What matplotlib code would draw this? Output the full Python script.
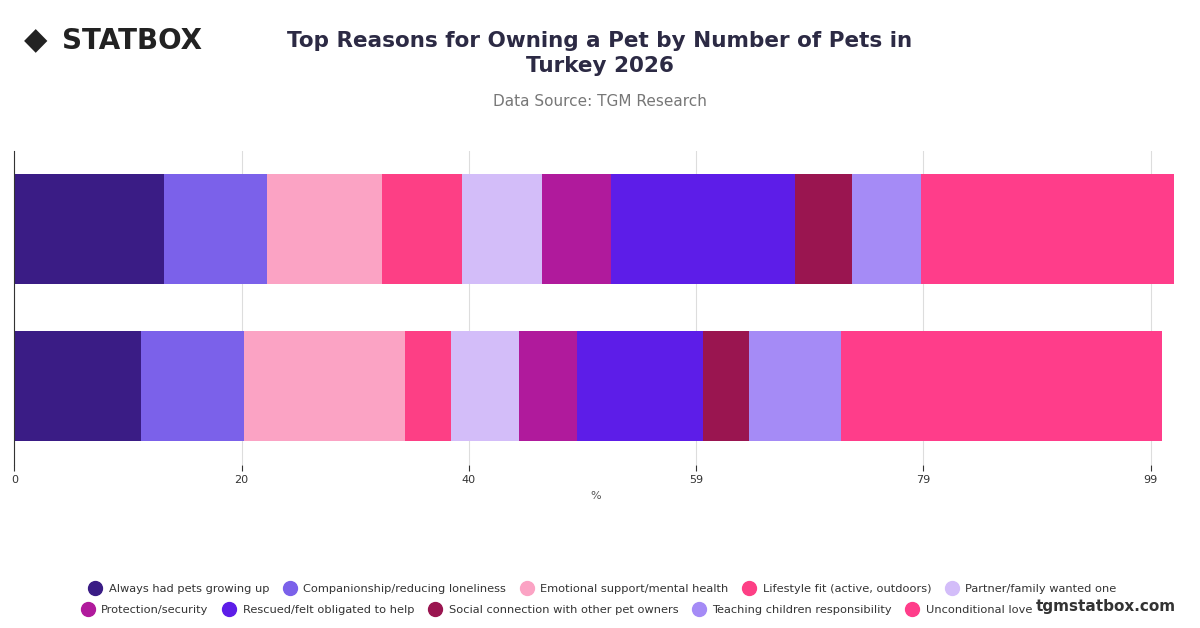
import numpy as np
import matplotlib.pyplot as plt
from matplotlib.lines import Line2D

reasons = ["Always had pets growing up", "Companionship/reducing loneliness",
           "Emotional support/mental health", "Lifestyle fit (active, outdoors)",
           "Partner/family wanted one", "Protection/security",
           "Rescued/felt obligated to help", "Social connection with other pet owners",
           "Teaching children responsibility", "Unconditional love"]
top_bar = [13, 9, 10, 7, 7, 6, 16, 5, 6, 22]
bottom_bar = [11, 9, 14, 4, 6, 5, 11, 4, 8, 28]
colors = ["#3a1c85", "#7b61ea", "#fba3c4", "#fd3f85", "#d3bdf9",
          "#b01a9c", "#5d1de8", "#9a1550", "#a58bf6", "#ff3d8a"]
tick_vals = np.linspace(0, 99, 6)

fig = plt.figure(figsize=(12, 6.28), dpi=100)
ax = fig.add_axes([0.012, 0.26, 0.968, 0.50])

ypos = [1, 0]
for y, vals in zip(ypos, [top_bar, bottom_bar]):
    left = 0
    for v, c in zip(vals, colors):
        ax.barh(y, v, left=left, color=c, height=0.7)
        left += v

ax.set_xlim(0, 101.2)
ax.set_ylim(-0.5, 1.5)
ax.set_xticks(tick_vals)
ax.set_xticklabels([str(int(round(t))) for t in tick_vals], fontsize=8, color="#333")
ax.set_yticks([])
ax.grid(axis="x", color="#dddddd", lw=0.8)
ax.set_axisbelow(True)
for s in ["top", "right", "bottom"]:
    ax.spines[s].set_visible(False)
ax.spines["left"].set_color("#333")
ax.tick_params(axis="x", length=4, color="#333")
ax.set_xlabel("%", fontsize=8, color="#555")

fig.text(0.5, 0.915, "Top Reasons for Owning a Pet by Number of Pets in\nTurkey 2026",
         ha="center", va="center", fontsize=15.5, fontweight="bold", color="#2c2a44",
         linespacing=1.35)
fig.text(0.5, 0.838, "Data Source: TGM Research", ha="center", va="center",
         fontsize=11, color="#777")
fig.text(0.052, 0.935, "STATBOX", ha="left", va="center", fontsize=20,
         fontweight="bold", color="#222")
fig.text(0.03, 0.935, "\u25c6", ha="center", va="center", fontsize=22, color="#222")
fig.text(0.98, 0.035, "tgmstatbox.com", ha="right", va="center", fontsize=11,
         fontweight="bold", color="#333")

# two legend rows, each centred on its own
for idx, yanc, xanc in [(range(0, 5), 0.062, 0.5), (range(5, 10), 0.028, 0.462)]:
    hs = [Line2D([], [], marker="o", ls="", color=colors[i], markersize=10) for i in idx]
    fig.legend(hs, [reasons[i] for i in idx], loc="center",
               bbox_to_anchor=(xanc, yanc), ncol=5, frameon=False, fontsize=8.2,
               handletextpad=0.2, columnspacing=0.8, labelcolor="#333")

fig.savefig("out.png")
